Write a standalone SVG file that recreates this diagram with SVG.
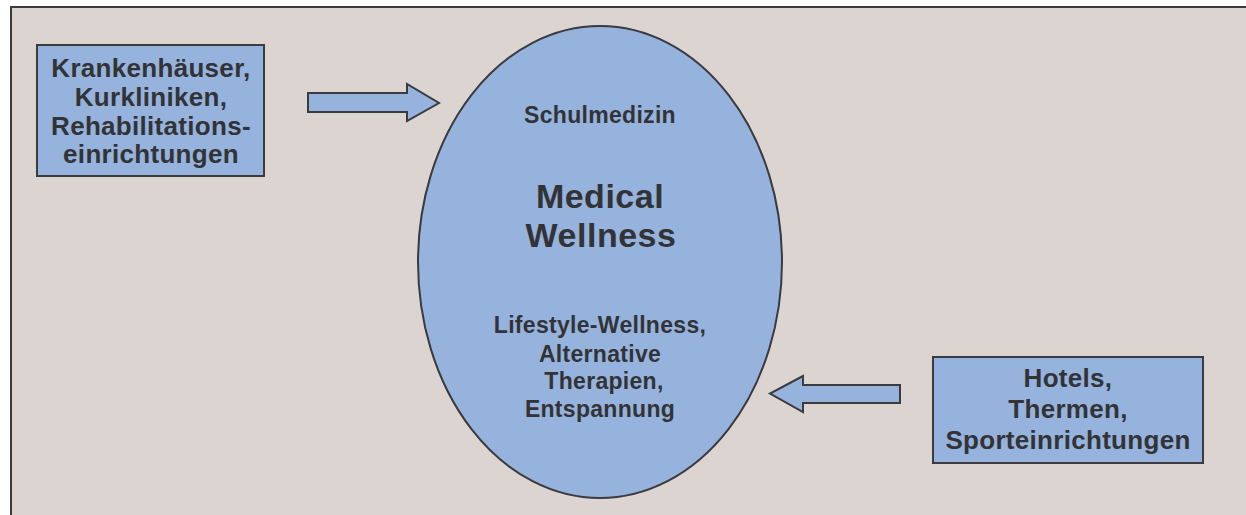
<svg xmlns="http://www.w3.org/2000/svg" width="1246" height="515" viewBox="0 0 1246 515">
<style>
.bg{fill:#dbd4d0;stroke:#3a3a3f;stroke-width:2}
.shape{fill:#95b3dd;stroke:#3a3a3f;stroke-width:2}
.arrow{fill:#95b3dd;stroke:#3a3a3f;stroke-width:2;stroke-linejoin:miter}
text{font-family:"Liberation Sans",Arial,sans-serif;font-weight:bold;fill:#333337;text-anchor:middle}
.box{font-size:26px;letter-spacing:0.3px}
.small{font-size:23px;letter-spacing:0.3px}
.big{font-size:34px;letter-spacing:0.5px}
</style>
<rect x="0" y="0" width="1246" height="515" fill="#ffffff"/>
<rect class="bg" x="11" y="7" width="1250" height="520"/>
<g id="connectors">
<polygon class="arrow" points="308,93 407,93 407,84 439,103 407,121 407,112 308,112"/>
<polygon class="arrow" points="900,385 803,385 803,376 770,393.5 803,412 803,403 900,403"/>
</g>
<g id="medical-wellness">
<ellipse class="shape" cx="600" cy="262" rx="182" ry="236"/>
<text class="small" x="600" y="123">Schulmedizin</text>
<text class="big" x="600" y="208">Medical</text>
<text class="big" x="601" y="247">Wellness</text>
<text class="small" x="600" y="333">Lifestyle-Wellness,</text>
<text class="small" x="600" y="362">Alternative</text>
<text class="small" x="604" y="389">Therapien,</text>
<text class="small" x="600" y="417">Entspannung</text>
</g>
<g id="kliniken">
<rect class="shape" x="37" y="45" width="227" height="131"/>
<text class="box" x="151" y="77">Krankenhäuser,</text>
<text class="box" x="151" y="106">Kurkliniken,</text>
<text class="box" x="151" y="135">Rehabilitations-</text>
<text class="box" x="151" y="163">einrichtungen</text>
</g>
<g id="hotels">
<rect class="shape" x="933" y="357" width="270" height="106"/>
<text class="box" x="1068" y="387">Hotels,</text>
<text class="box" x="1068" y="418">Thermen,</text>
<text class="box" x="1068" y="449">Sporteinrichtungen</text>
</g>
</svg>
